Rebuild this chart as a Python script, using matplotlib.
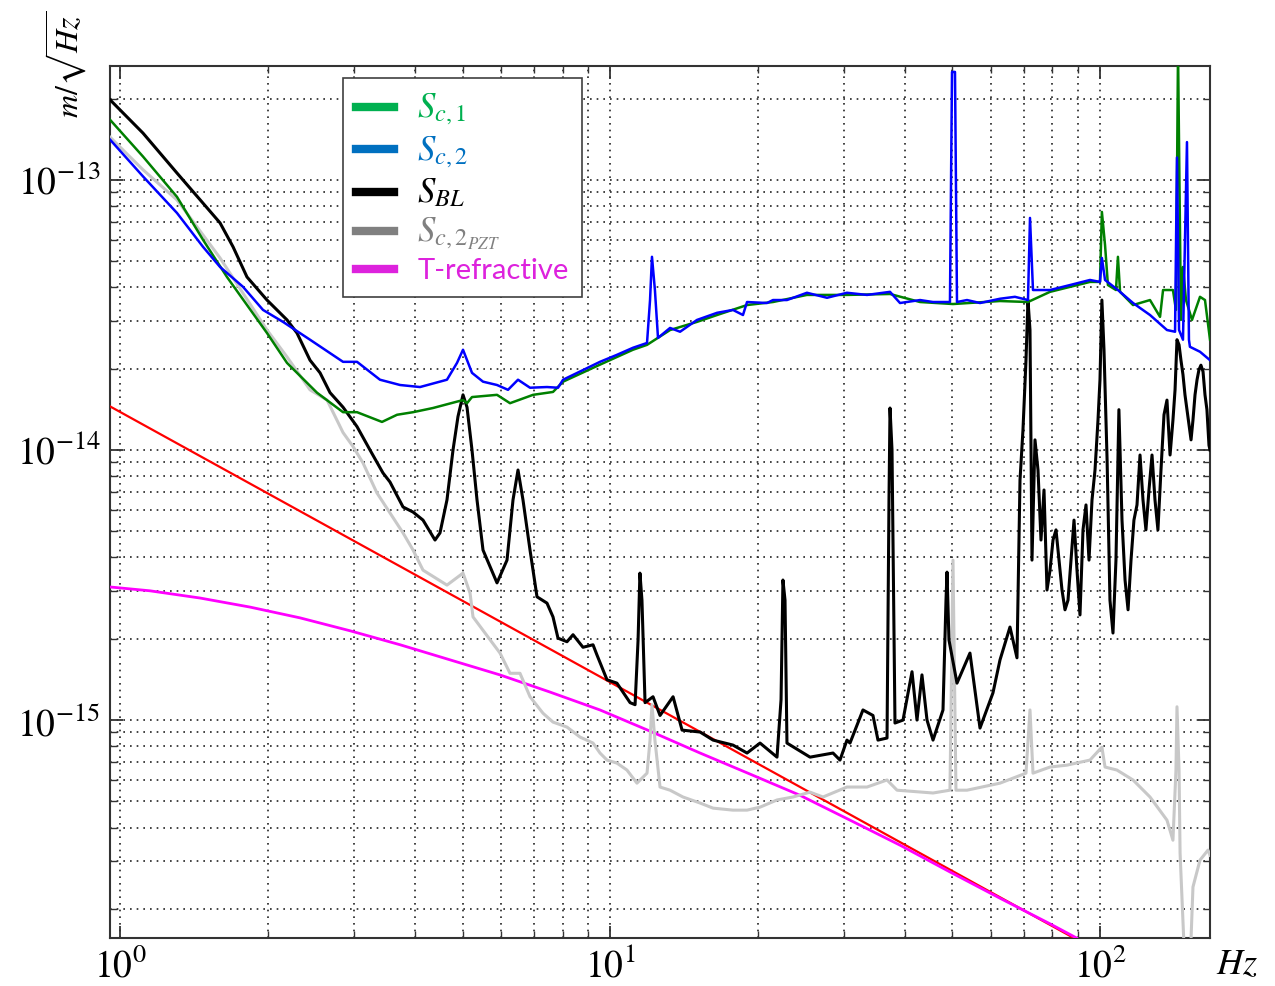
import matplotlib
matplotlib.use("Agg")
import matplotlib.pyplot as plt
from matplotlib.lines import Line2D
from matplotlib.ticker import LogLocator, NullFormatter, FixedLocator

# ---------------- data ----------------
red_f = [0.954, 89.6]
red_v = [1.45e-14, 1.54e-16]

trefr_f = [0.954, 1.151, 1.457, 1.842, 2.33, 2.95, 3.73, 4.72, 5.96, 7.54, 9.54,
           12.07, 15.27, 19.31, 24.4, 30.9, 39.1, 49.4, 62.5, 79.1, 89.6]
trefr_v = [3.11e-15, 3.01e-15, 2.83e-15, 2.62e-15, 2.39e-15, 2.14e-15, 1.90e-15,
           1.67e-15, 1.47e-15, 1.27e-15, 1.09e-15, 9.1e-16, 7.55e-16, 6.31e-16,
           5.27e-16, 4.26e-16, 3.44e-16, 2.74e-16, 2.19e-16, 1.76e-16, 1.56e-16]

pzt_f = [0.954, 1.114, 1.307, 1.600, 1.995, 2.192, 2.442, 2.646, 2.852, 2.989, 3.133,
         3.345, 3.781, 3.963, 4.153, 4.648, 5.012, 5.181, 5.253, 5.964, 6.251, 6.551,
         6.867, 7.299, 7.650, 8.170, 8.686, 9.233, 9.541, 9.860, 10.33, 10.83, 11.35,
         11.90, 12.07, 12.18, 12.35, 12.65, 13.26, 14.09, 15.27, 16.23, 17.82, 19.04,
         20.24, 21.92, 23.63, 25.60, 27.21, 30.45, 33.46, 36.76, 38.53, 45.63, 49.41,
         50.12, 50.82, 53.53, 62.51, 70.63, 71.97, 72.99, 79.07, 85.64, 95.41, 100.9,
         102.4, 108.3, 116.8, 126.5, 137.0, 140.9, 142.9, 143.6, 145.0, 145.7, 149.1,
         152.6, 154.8, 160.0, 166.1, 167.7]
pzt_v = [1.44e-13, 1.09e-13, 8.43e-14, 5.14e-14, 2.78e-14, 2.21e-14, 1.67e-14, 1.53e-14,
         1.16e-14, 1.03e-14, 8.95e-15, 6.93e-15, 4.93e-15, 4.26e-15, 3.59e-15, 3.16e-15,
         3.50e-15, 2.95e-15, 2.41e-15, 1.77e-15, 1.49e-15, 1.49e-15, 1.22e-15, 1.06e-15,
         9.83e-16, 9.42e-16, 8.65e-16, 8.22e-16, 7.55e-16, 7.11e-16, 6.93e-16, 6.53e-16,
         5.84e-16, 6.36e-16, 8.43e-16, 1.14e-15, 8.43e-16, 5.65e-16, 5.50e-16, 5.19e-16,
         4.93e-16, 4.72e-16, 4.64e-16, 4.64e-16, 4.76e-16, 5.06e-16, 5.19e-16, 5.41e-16,
         5.19e-16, 5.65e-16, 5.65e-16, 6.00e-16, 5.50e-16, 5.37e-16, 5.50e-16, 3.91e-15,
         5.50e-16, 5.50e-16, 5.84e-16, 6.36e-16, 1.09e-15, 6.36e-16, 6.70e-16, 6.81e-16,
         7.11e-16, 7.94e-16, 6.70e-16, 6.53e-16, 6.00e-16, 5.19e-16, 4.26e-16, 3.59e-16,
         6.50e-16, 1.12e-15, 6.50e-16, 3.22e-16, 1.20e-16, 1.20e-16, 2.41e-16, 3.03e-16,
         3.30e-16, 3.16e-16]

sbl_f = [0.954, 1.114, 1.307, 1.457, 1.600, 1.701, 1.816, 1.995, 2.192, 2.297, 2.442,
         2.560, 2.683, 2.852, 3.046, 3.237, 3.441, 3.556, 3.781, 3.963, 4.153, 4.394,
         4.498, 4.648, 4.782, 4.895, 5.012, 5.107, 5.228, 5.353, 5.506, 5.880, 6.163,
         6.339, 6.490, 6.644, 6.867, 7.096, 7.437, 7.650, 7.832, 8.170, 8.405, 8.808,
         9.233, 9.408, 9.860, 10.33, 10.99, 11.25, 11.41, 11.51, 11.62, 11.79, 12.24,
         12.65, 13.45, 14.03, 15.27, 16.23, 17.82, 19.04, 20.24, 21.92, 22.34, 22.54,
         22.76, 22.97, 25.60, 28.52, 29.47, 30.45, 30.89, 32.83, 34.41, 35.23, 36.76,
         37.10, 37.28, 37.63, 38.16, 39.63, 41.34, 42.32, 43.32, 44.36, 45.63, 47.82,
         48.50, 48.73, 49.18, 51.07, 54.28, 56.90, 60.47, 62.51, 65.51, 67.70,
         68.67, 69.64, 70.63, 71.29, 71.97, 72.65, 73.68, 74.73, 75.79, 76.87, 77.96,
         79.07, 80.19, 81.33, 82.48, 83.65, 84.84, 86.05, 87.27, 88.51, 89.76, 91.03,
         92.33, 93.64, 94.97, 96.32, 97.69, 99.07, 100.0, 100.9, 101.9, 103.4, 104.8,
         106.3, 107.8, 109.3, 110.9, 112.5, 114.1, 115.7, 117.3, 119.0, 120.7, 122.4,
         124.1, 125.9, 127.7, 129.5, 131.3, 133.2, 135.1, 137.0, 139.0, 140.9, 142.3,
         143.6, 145.0, 146.3, 147.7, 149.1, 150.5, 151.9, 153.4, 154.8, 156.3, 157.8,
         159.2, 160.7, 162.3, 163.8, 165.3, 166.9, 167.7]
sbl_v = [1.98e-13, 1.49e-13, 1.06e-13, 8.43e-14, 6.93e-14, 5.65e-14, 4.37e-14, 3.59e-14,
         3.03e-14, 2.71e-14, 2.15e-14, 1.93e-14, 1.63e-14, 1.44e-14, 1.22e-14, 1.0e-14,
         8.22e-15, 7.61e-15, 6.15e-15, 5.89e-15, 5.50e-15, 4.64e-15, 4.93e-15, 6.53e-15,
         1.0e-14, 1.33e-14, 1.60e-14, 1.44e-14, 1.0e-14, 6.53e-15, 4.26e-15, 3.22e-15,
         3.91e-15, 6.53e-15, 8.43e-15, 6.53e-15, 4.26e-15, 2.86e-15, 2.71e-15, 2.41e-15,
         2.01e-15, 1.95e-15, 2.07e-15, 1.86e-15, 1.90e-15, 1.74e-15, 1.41e-15, 1.37e-15,
         1.16e-15, 1.14e-15, 1.98e-15, 3.50e-15, 2.78e-15, 1.16e-15, 1.22e-15, 1.04e-15,
         1.22e-15, 9.18e-16, 9.03e-16, 8.43e-16, 8.08e-16, 7.55e-16, 8.22e-16, 7.29e-16,
         1.19e-15, 3.30e-15, 2.78e-15, 8.22e-16, 7.29e-16, 7.55e-16, 7.11e-16, 8.43e-16,
         8.22e-16, 1.09e-15, 1.04e-15, 8.43e-16, 8.58e-16, 6.53e-15, 1.43e-14, 1.0e-14,
         9.75e-16, 1.0e-15, 1.51e-15, 1.0e-15, 1.47e-15, 1.0e-15, 8.43e-16, 1.09e-15,
         2.78e-15, 3.53e-15, 1.98e-15, 1.37e-15, 1.77e-15, 9.34e-16, 1.26e-15, 1.67e-15,
         2.21e-15, 1.70e-15,
         7.74e-15, 1.19e-14, 2.15e-14, 3.59e-14, 2.78e-14, 3.91e-15, 1.09e-14, 8.43e-15,
         4.64e-15, 7.11e-15, 3.03e-15, 3.59e-15, 4.64e-15, 5.06e-15, 3.91e-15, 3.03e-15,
         2.56e-15, 2.78e-15, 3.91e-15, 5.50e-15, 3.59e-15, 2.45e-15, 5.06e-15, 6.26e-15,
         3.91e-15, 6.53e-15, 8.43e-15, 1.29e-14, 1.82e-14, 3.59e-14, 2.35e-14, 9.18e-15,
         2.78e-15, 2.10e-15, 3.91e-15, 1.41e-14, 5.50e-15, 3.30e-15, 2.56e-15, 3.91e-15,
         5.50e-15, 6.26e-15, 9.58e-15, 6.53e-15, 5.06e-15, 7.11e-15, 9.58e-15, 6.53e-15,
         5.06e-15, 8.43e-15, 1.35e-14, 1.53e-14, 9.58e-15, 1.29e-14, 1.67e-14, 2.56e-14,
         2.45e-14, 2.15e-14, 1.90e-14, 1.60e-14, 1.41e-14, 1.24e-14, 1.09e-14, 1.29e-14,
         1.60e-14, 1.82e-14, 1.98e-14, 2.06e-14, 1.95e-14, 1.60e-14, 1.41e-14, 1.04e-14,
         1.0e-14]

sc1_f = [0.954, 1.114, 1.307, 1.477, 1.653, 1.995, 2.192, 2.523, 2.852, 3.046, 3.425,
         3.676, 3.963, 4.352, 4.872, 5.012, 5.107, 5.228, 5.880, 6.251, 6.965, 7.650,
         8.02, 9.541, 11.14, 11.90, 13.26, 15.05, 16.54, 19.04, 21.51, 25.23, 30.45,
         37.28, 42.93, 50.12, 62.51, 71.29, 79.07, 95.41, 100.0, 100.9, 102.4, 103.8,
         107.8, 108.8, 109.9, 116.8, 126.5, 132.6, 134.5, 140.9, 142.9, 144.3, 146.3,
         147.7, 149.8, 154.1, 160.0, 163.8, 167.7]
sc1_v = [1.67e-13, 1.22e-13, 8.65e-14, 6.0e-14, 4.37e-14, 2.71e-14, 2.10e-14, 1.63e-14,
         1.38e-14, 1.38e-14, 1.27e-14, 1.35e-14, 1.38e-14, 1.43e-14, 1.51e-14, 1.53e-14,
         1.49e-14, 1.57e-14, 1.60e-14, 1.49e-14, 1.60e-14, 1.64e-14, 1.79e-14, 2.07e-14,
         2.35e-14, 2.45e-14, 2.78e-14, 2.98e-14, 3.16e-14, 3.44e-14, 3.53e-14, 3.75e-14,
         3.75e-14, 3.78e-14, 3.53e-14, 3.47e-14, 3.56e-14, 3.53e-14, 3.85e-14, 4.19e-14,
         4.19e-14, 7.61e-14, 5.74e-14, 4.08e-14, 3.91e-14, 5.19e-14, 3.85e-14, 3.44e-14,
         3.59e-14, 3.11e-14, 3.91e-14, 3.91e-14, 3.30e-14, 3.0e-13, 3.03e-14, 4.76e-14,
         3.59e-14, 3.03e-14, 3.69e-14, 3.59e-14, 2.56e-14]

sc2_f = [0.954, 1.114, 1.307, 1.477, 1.600, 1.782, 1.958, 2.151, 2.442, 2.852, 3.046,
         3.393, 3.728, 4.095, 4.648, 4.872, 5.012, 5.228, 5.506, 5.880, 6.192, 6.490,
         6.867, 7.437, 7.832, 8.02, 9.541, 10.33, 11.14, 11.90, 12.07, 12.18, 12.35,
         12.53, 13.26, 13.90, 15.05, 16.54, 17.82, 18.68, 19.04, 20.91, 21.51, 22.97,
         25.23, 27.73, 30.45, 33.46, 37.28, 39.07, 42.93, 45.63, 49.41, 49.89, 50.59,
         51.07, 53.53, 56.90, 62.51, 67.06, 71.29, 71.97, 72.99, 79.07, 86.87, 95.41,
         100.0, 100.9, 102.4, 108.8, 116.8, 126.5, 137.0, 142.3, 143.6, 145.0, 147.7,
         150.5, 151.9, 152.6, 160.0, 167.7]
sc2_v = [1.41e-13, 1.03e-13, 7.54e-14, 5.65e-14, 4.76e-14, 4.02e-14, 3.30e-14, 2.98e-14,
         2.56e-14, 2.12e-14, 2.12e-14, 1.82e-14, 1.74e-14, 1.71e-14, 1.82e-14, 2.10e-14,
         2.35e-14, 1.93e-14, 1.79e-14, 1.74e-14, 1.67e-14, 1.82e-14, 1.70e-14, 1.71e-14,
         1.70e-14, 1.82e-14, 2.12e-14, 2.25e-14, 2.39e-14, 2.49e-14, 3.59e-14, 5.19e-14,
         3.91e-14, 2.60e-14, 2.83e-14, 2.74e-14, 3.03e-14, 3.22e-14, 3.30e-14, 3.16e-14,
         3.53e-14, 3.50e-14, 3.59e-14, 3.59e-14, 3.82e-14, 3.66e-14, 3.82e-14, 3.75e-14,
         3.85e-14, 3.50e-14, 3.59e-14, 3.53e-14, 3.53e-14, 2.51e-13, 2.51e-13, 3.53e-14,
         3.59e-14, 3.50e-14, 3.63e-14, 3.69e-14, 3.59e-14, 7.23e-14, 3.91e-14, 3.91e-14,
         4.08e-14, 4.26e-14, 4.19e-14, 5.14e-14, 4.26e-14, 3.91e-14, 3.50e-14, 3.16e-14,
         2.78e-14, 2.74e-14, 1.21e-13, 2.78e-14, 2.56e-14, 1.38e-13, 2.56e-14, 2.41e-14,
         2.31e-14, 2.15e-14]

x_major = [1, 10, 100]
y_major = [1e-15, 1e-14, 1e-13]

legend_labels = [r'$S_{c,1}$', r'$S_{c,2}$', r'$S_{BL}$', r'$S_{c,2_{PZT}}$', 'T-refractive']
legend_colors = ['#00B050', '#0070C0', '#000000', '#808080', '#DD22DD']

# ---------------- figure ----------------
plt.rcParams['mathtext.fontset'] = 'stix'
plt.rcParams['font.family'] = ['STIXGeneral', 'DejaVu Serif']

fig = plt.figure(figsize=(12.75, 9.86), dpi=100)
ax = fig.add_axes([110/1275, 1-938/986, 1100/1275, 872/986])

ax.plot(red_f, red_v, color='#FF0000', lw=1.6, zorder=3)
ax.plot(trefr_f, trefr_v, color='#FF00FF', lw=2.0, zorder=3)
ax.plot(pzt_f, pzt_v, color='#C8C8C8', lw=2.2, zorder=4)
ax.plot(sbl_f, sbl_v, color='#000000', lw=2.2, zorder=5)
ax.plot(sc1_f, sc1_v, color='#008000', lw=1.8, zorder=6)
ax.plot(sc2_f, sc2_v, color='#0000FF', lw=1.8, zorder=7)

ax.set_xscale('log')
ax.set_yscale('log')
ax.set_xlim(0.954, 167.7)
ax.set_ylim(1.56e-16, 2.64e-13)

ax.xaxis.set_major_locator(FixedLocator(x_major))
ax.xaxis.set_minor_locator(LogLocator(base=10, subs=range(2, 10), numticks=20))
ax.yaxis.set_major_locator(FixedLocator(y_major))
ax.yaxis.set_minor_locator(LogLocator(base=10, subs=range(2, 10), numticks=20))
ax.xaxis.set_minor_formatter(NullFormatter())
ax.yaxis.set_minor_formatter(NullFormatter())

ax.grid(which='both', color='#222222', linestyle=(0, (1, 3)), linewidth=1.2)
ax.set_axisbelow(True)

ax.tick_params(which='both', direction='in', top=True, right=True,
               color='#333333', labelsize=27)
ax.tick_params(which='major', length=9, width=1.3, pad=7)
ax.tick_params(which='minor', length=5, width=1.0)
for sp in ax.spines.values():
    sp.set_color('#333333')
    sp.set_linewidth(1.5)

fig.text(66/1275, 1-64/986, r'$m/\sqrt{Hz}$', rotation=90, ha='center', va='center',
         fontsize=23)
fig.text(1237/1275, 1-966/986, r'$Hz$', ha='center', va='center', fontsize=26)

handles = [Line2D([0], [0], color=c, lw=6) for c in legend_colors]
leg = ax.legend(handles, legend_labels, loc='upper left',
                bbox_to_anchor=((343-110)/1100, (938-78)/872),
                borderaxespad=0, fancybox=False, framealpha=1,
                edgecolor='#404040', handlelength=1.3, handletextpad=0.8,
                labelspacing=0.22, borderpad=0.45,
                prop={'family': ['Lato', 'DejaVu Sans'], 'size': 21})
leg.get_frame().set_linewidth(1.2)
for i, (t, c) in enumerate(zip(leg.get_texts(), legend_colors)):
    t.set_color(c)
    if i < 4:
        t.set_fontsize(25)
leg.set_zorder(10)

fig.savefig('out.png', dpi=100)
